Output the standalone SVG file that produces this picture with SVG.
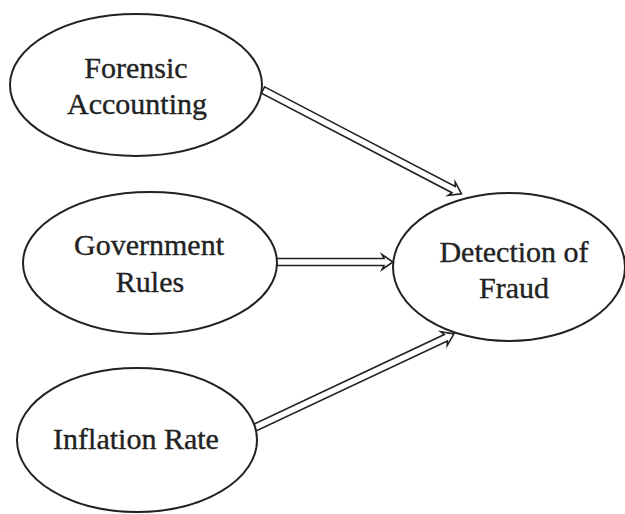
<svg xmlns="http://www.w3.org/2000/svg" width="625" height="514" viewBox="0 0 625 514">
<style>
.node ellipse{fill:#fff;stroke:#222;stroke-width:2}
.node text{font-family:"Liberation Serif","Times New Roman",serif;font-size:30px;fill:#222;stroke:#222;stroke-width:0.35;text-anchor:middle}
.conn polygon{fill:#fff;stroke:#222;stroke-width:1.6;stroke-linejoin:miter}
</style>
<rect width="625" height="514" fill="#fff"/>
<g id="connectors" class="conn">
<polygon transform="translate(263,90) rotate(27.6)" points="0,-3.5 215,-3.5 213,-7.5 224,0 213,7.5 215,3.5 0,3.5"/>
<polygon transform="translate(276,262)" points="0,-3.5 108,-3.5 106,-7.5 117,0 106,7.5 108,3.5 0,3.5"/>
<polygon transform="translate(254,428) rotate(-25.2)" points="0,-3.5 212,-3.5 210,-7.5 221,0 210,7.5 212,3.5 0,3.5"/>
</g>
<g id="forensic" class="node">
<ellipse cx="136" cy="85" rx="126" ry="71"/>
<text x="136" y="78">Forensic</text>
<text x="137" y="114">Accounting</text>
</g>
<g id="government" class="node">
<ellipse cx="150" cy="263" rx="127" ry="71"/>
<text x="149" y="255">Government</text>
<text x="150" y="292">Rules</text>
</g>
<g id="inflation" class="node">
<ellipse cx="137" cy="440" rx="120" ry="72"/>
<text x="136" y="449">Inflation Rate</text>
</g>
<g id="detection" class="node">
<ellipse cx="509" cy="267" rx="116" ry="74"/>
<text x="514" y="262">Detection of</text>
<text x="514" y="298">Fraud</text>
</g>
</svg>
